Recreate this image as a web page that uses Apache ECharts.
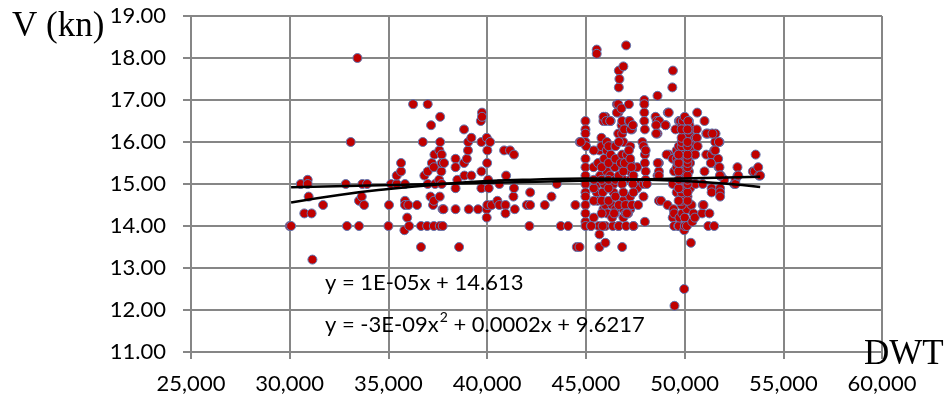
<!DOCTYPE html>
<html>
<head>
<meta charset="utf-8">
<script src="https://cdn.jsdelivr.net/npm/echarts@6/dist/echarts.min.js"></script>
<style>
html,body{margin:0;padding:0;background:#fff;}
#chart{width:945px;height:400px;}
</style>
</head>
<body>
<div id="chart"></div>
<script>
// ---- data ----
const xTicks = [25000, 30000, 35000, 40000, 45000, 50000, 55000, 60000];
const yTicks = [11, 12, 13, 14, 15, 16, 17, 18, 19];

// ship observations: DWT and speed V (kn)
const dwt = [
  30000,30070,30560,30910,30910,30960,30740,31110,31150,31690,32840,32900,33090,33430,33510,33510,33650,33680,33770,33920,
  35000,35030,35130,35420,35420,35640,35640,35810,35840,35840,35840,35950,36010,36050,36250,36450,36650,36650,36740,36820,
  36960,36990,36990,36990,37130,37160,37200,37260,37300,37300,37300,37330,37360,37570,37580,37600,37600,37620,37620,37680,
  37700,37700,37700,37740,37750,37790,37820,38400,38400,38400,38400,38490,38580,38830,38850,38830,38970,39030,39040,39070,
  39200,39200,39540,39680,39710,39710,39710,39740,39740,39980,39980,39980,40000,40010,40010,40050,40080,40150,40230,40520,
  40620,40620,40860,40930,40930,40960,41160,41330,41360,41360,41400,42010,42140,42180,42180,42920,43260,43530,43730,44100,
  44470,44540,44680,44690,44980,
  44980,44980,44980,44980,45010,44980,44980,44980,44980,44980,44980,44980,44980,44980,44740,
  45250,45390,45550,45550,45550,45590,45590,45620,45650,45690,45690,45690,45720,45790,45790,45860,45890,45890,45930,45930,
  45990,45990,45990,45990,46060,46060,46060,46060,46080,46230,46260,46260,46330,46370,46400,46400,46470,46470,
  45400,45400,45400,45400,45400,45800,45800,45800,45800,46150,46150,46150,46150,46150,46500,46500,46500,46500,46500,
  46900,46900,46900,46900,46900,47250,47250,47250,47250,47250,47250,47600,47600,47600,
  45890,46030,46230,46570,46650,46770,46330,46900,47140,46430,45270,45850,46650,47410,
  46570,46640,46640,46670,46670,46670,46670,46670,46670,46700,46770,46800,46810,46840,46840,46840,46840,46840,46900,46900,
  46900,46940,46970,47010,47010,47040,47040,47080,47080,47180,47180,47180,47250,47310,47340,47340,47380,47410,47410,47410,
  47650,47210,47280,47380,
  47860,47920,47920,47920,47960,47960,47960,47960,47990,47990,47990,47990,48030,48030,48030,48090,48530,48630,48630,48630,
  48700,48700,48700,48700,48810,49040,49140,49150,49200,49200,49380,49410,48590,48710,48560,48560,49030,49090,48640,48700,
  49400,49400,49440,49400,49470,49470,49470,49490,49540,49600,49600,49600,49600,49640,49680,49680,49710,49710,49710,49740,
  49740,49780,49840,49880,49880,49910,49950,49950,49980,49980,50010,50010,50010,50010,50010,50010,50010,50050,50120,50120,
  50150,50220,50220,50220,50250,50280,50280,50280,50320,50350,50390,50450,50450,50450,50520,50540,50550,50620,50620,50640,
  50660,50890,50920,50920,50960,51010,51010,51100,51100,51200,51200,51260,51370,51370,51370,51370,51370,51500,51500,51550,
  51570,51700,51720,51770,51770,51800,51800,51800,51800,51840,52010,52510,52580,52580,52680,52680,52720,53460,53550,53600,
  53730,53770,53830,51130,51415,51740,51550,50540,51330,51790,50180,49980,50220,
  49850,49850,49850,49850,49850,49850,49850,49850,49850,49850,49850,49850,49850,49850,49850,
  50150,50150,50150,50150,50150,50150,50150,50150,50150,50150,50150,50150,
  49700,49700,49700,49700,49700,49700
];
const speed = [
  14.0,14.0,15.0,15.1,15.0,14.7,14.3,14.3,13.2,14.5,15.0,14.0,16.0,18.0,14.6,14.0,14.7,15.0,14.5,15.0,
  14.0,14.5,15.0,15.0,15.2,15.3,15.5,13.9,15.0,14.6,14.5,14.2,14.5,14.0,16.9,14.5,14.0,13.5,16.0,15.2,
  14.0,16.9,15.3,15.0,14.7,16.4,15.5,14.5,15.4,14.6,14.0,15.7,15.0,15.1,15.8,14.7,14.0,16.6,16.0,15.3,
  15.7,15.5,15.0,14.4,14.0,14.4,15.5,15.6,15.4,14.9,14.4,15.1,13.5,15.5,15.2,16.3,15.6,15.8,16.0,14.4,
  16.1,15.2,14.4,16.5,16.0,15.3,14.9,16.7,16.6,16.1,14.4,14.2,15.5,15.8,14.5,15.1,14.9,16.0,14.5,14.6,
  15.0,14.5,15.8,14.5,14.3,15.2,15.8,14.7,15.7,14.9,14.4,14.5,14.0,14.8,14.5,14.5,14.7,15.0,14.0,14.0,
  14.5,13.5,13.5,16.0,14.1,
  16.5,16.3,16.2,16.0,15.9,15.6,15.4,15.2,15.0,14.8,14.7,14.5,14.3,14.0,16.0,
  14.0,15.4,18.2,18.1,14.8,15.0,14.6,15.5,14.0,15.8,13.8,13.5,15.2,16.1,15.9,14.8,16.5,14.4,15.6,15.0,
  16.6,14.5,14.0,13.6,16.0,15.8,15.4,15.3,14.3,15.2,16.5,15.7,14.5,14.0,15.0,14.8,15.4,14.3,
  14.2,14.6,14.9,15.1,15.8,14.3,14.6,15.1,15.4,14.6,14.9,15.1,15.5,15.9,14.4,14.7,15.1,15.6,15.9,
  14.4,14.6,15.1,15.4,16.0,14.4,14.7,15.1,15.3,15.5,15.9,15.0,15.4,14.9,
  16.6,16.5,16.5,16.9,16.7,16.8,14.2,14.2,14.3,14.3,14.0,14.0,14.0,14.0,
  16.7,16.9,16.2,17.7,17.3,16.0,15.2,14.5,14.0,17.5,15.5,16.8,16.4,16.5,16.2,15.7,15.0,13.5,17.8,15.3,
  14.8,16.3,15.5,14.5,14.3,18.3,14.0,15.7,14.3,16.9,16.5,15.8,15.6,15.4,16.3,14.5,15.0,15.2,14.8,14.0,
  14.5,16.5,16.3,16.4,
  16.0,15.9,15.0,14.7,17.0,16.9,16.7,16.5,16.3,15.7,15.5,14.1,15.8,15.3,15.1,15.0,16.6,17.1,16.2,15.2,
  16.5,15.5,15.3,14.6,14.6,16.4,14.5,16.7,16.7,15.7,17.3,17.7,16.5,16.5,16.4,16.2,16.4,15.7,15.5,15.2,
  15.6,15.0,14.4,14.2,15.3,14.3,14.0,12.1,16.3,15.8,15.6,15.4,14.8,15.5,15.7,14.0,16.5,15.9,14.0,16.5,
  14.2,16.5,14.7,16.4,14.3,16.5,16.2,15.1,13.9,12.5,16.6,16.0,15.9,15.8,15.4,14.2,14.0,15.7,14.4,14.0,
  14.7,16.5,16.2,15.3,16.4,15.8,15.5,14.9,13.6,14.5,14.1,16.0,15.7,14.3,14.2,16.1,15.0,16.3,16.1,16.7,
  15.9,14.3,15.0,14.5,14.5,16.5,15.3,15.7,16.2,16.2,14.0,14.3,16.2,15.7,15.5,14.9,14.8,15.8,14.0,16.0,
  16.2,15.6,15.4,16.0,15.4,15.2,14.9,14.8,14.7,15.2,15.1,15.0,15.1,15.0,15.4,15.2,15.2,15.3,15.3,15.7,
  15.4,15.2,15.2,16.2,16.2,16.0,15.8,15.7,15.5,15.2,16.5,16.3,16.3,
  14.5,14.6,14.8,14.9,15.0,15.1,15.2,15.3,15.5,15.6,15.7,15.9,16.0,16.1,16.3,
  14.6,14.8,15.0,15.1,15.2,15.4,15.5,15.6,15.7,15.9,16.0,16.3,
  14.6,14.9,15.1,15.3,15.5,15.7
];

// trend lines at several DWT values
const linTrendX = [30070, 53830];
const linTrendY = [14.92, 15.17];
const polyTrendX = [30070, 32500, 35000, 37500, 40000, 42500, 45000, 47500, 50000, 52000, 53830];
const polyTrendY = [14.56, 14.74, 14.88, 14.99, 15.07, 15.11, 15.13, 15.11, 15.07, 15.01, 14.93];

const linLabel = 'y = 1E-05x + 14.613';
const polyLabelA = 'y = -3E-09x';
const polyLabelSup = '2';
const polyLabelB = ' + 0.0002x + 9.6217';
const yName = 'V (kn)';
const xName = 'DWT';

// ---- chart ----
const chart = echarts.init(document.getElementById('chart'), null, {renderer: 'canvas'});
const gridColor = '#868686';
const labelFont = 'Lato';

chart.setOption({
  animation: false,
  backgroundColor: '#ffffff',
  grid: {left: 191, right: 63, top: 16, bottom: 48, containLabel: false, outerBoundsMode: 'none'},
  xAxis: {
    type: 'value', min: xTicks[0], max: xTicks[xTicks.length - 1], interval: xTicks[1] - xTicks[0],
    axisLine: {show: true, onZero: false, lineStyle: {color: gridColor, width: 2}},
    axisTick: {show: true, length: 7, lineStyle: {color: gridColor, width: 2}},
    splitLine: {show: true, lineStyle: {color: gridColor, width: 2}},
    axisLabel: {
      margin: 21, color: '#000', fontFamily: labelFont, fontSize: 22,
      formatter: v => v.toLocaleString('en-US')
    }
  },
  yAxis: {
    type: 'value', min: yTicks[0], max: yTicks[yTicks.length - 1], interval: yTicks[1] - yTicks[0],
    axisLine: {show: true, onZero: false, lineStyle: {color: gridColor, width: 2}},
    axisTick: {show: true, length: 8, lineStyle: {color: gridColor, width: 2}},
    splitLine: {show: true, lineStyle: {color: gridColor, width: 2}},
    axisLabel: {
      margin: 25, color: '#000', fontFamily: labelFont, fontSize: 22,
      formatter: v => v.toFixed(2)
    }
  },
  series: [
    {
      type: 'scatter',
      data: dwt.map((x, i) => [x, speed[i]]),
      symbol: 'circle', symbolSize: 9,
      itemStyle: {color: '#C00000', borderColor: '#5F78B4', borderWidth: 1, opacity: 1},
      z: 2
    },
    {
      type: 'line', data: linTrendX.map((x, i) => [x, linTrendY[i]]),
      showSymbol: false, symbol: 'none',
      lineStyle: {color: '#000', width: 2.5}, z: 5
    },
    {
      type: 'line', data: polyTrendX.map((x, i) => [x, polyTrendY[i]]),
      showSymbol: false, symbol: 'none', smooth: true,
      lineStyle: {color: '#000', width: 2.5}, z: 5
    }
  ],
  graphic: [
    {type: 'text', x: 12, y: 27, z: 10,
     style: {text: yName, font: '35px "Liberation Serif"', fill: '#000', verticalAlign: 'middle'}},
    {type: 'text', x: 864, y: 355, z: 10,
     style: {text: xName, font: '35px "Liberation Serif"', fill: '#000', verticalAlign: 'middle'}},
    {type: 'text', x: 325, y: 283, z: 10,
     style: {text: linLabel, font: '22px Lato', fill: '#000', verticalAlign: 'middle'}},
    {type: 'text', x: 325, y: 323, z: 10,
     style: {
       text: '{a|' + polyLabelA + '}{s|' + polyLabelSup + '}{a|' + polyLabelB + '}',
       verticalAlign: 'middle',
       rich: {
         a: {fontFamily: 'Lato', fontSize: 22, fill: '#000', lineHeight: 26, verticalAlign: 'bottom'},
         s: {fontFamily: 'Lato', fontSize: 14, fill: '#000', lineHeight: 26, verticalAlign: 'top', padding: [0, 0, 0, 1]}
       }
     }}
  ]
});
</script>
</body>
</html>
